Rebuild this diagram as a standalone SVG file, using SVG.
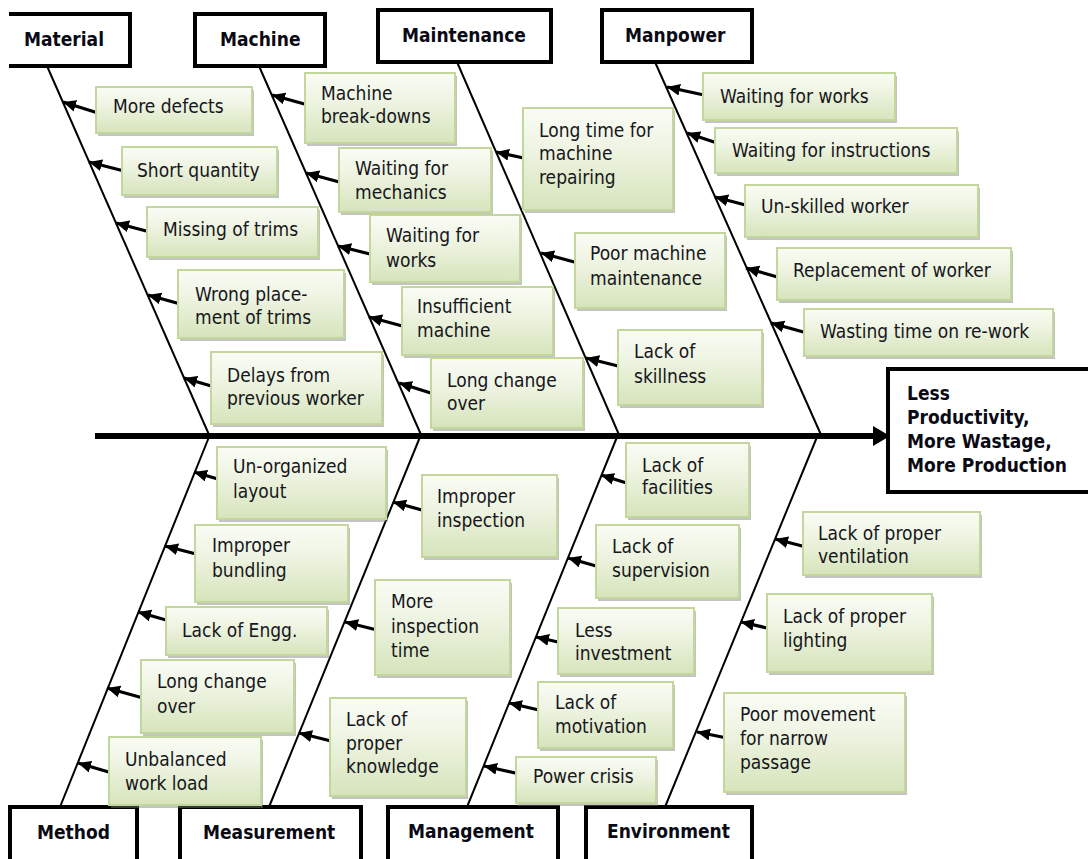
<svg xmlns="http://www.w3.org/2000/svg" width="1088" height="859" viewBox="0 0 1088 859">
<defs>
<linearGradient id="gf" x1="0" y1="0" x2="0" y2="1">
<stop offset="0" stop-color="#fafcf5"/>
<stop offset="0.35" stop-color="#f0f5e5"/>
<stop offset="1" stop-color="#d6e4bb"/>
</linearGradient>
<marker id="ah" markerUnits="userSpaceOnUse" markerWidth="15" markerHeight="13" refX="13" refY="6" orient="auto">
<path d="M0,0 L13,6 L0,12 z" fill="#000"/>
</marker>
</defs>
<style>
.t{font-family:"DejaVu Sans Condensed","DejaVu Sans",sans-serif;font-stretch:condensed;font-size:19px;fill:#161620}
.b{font-family:"DejaVu Sans Condensed","DejaVu Sans",sans-serif;font-stretch:condensed;font-size:19px;font-weight:bold;fill:#0a0a14}
.box{fill:url(#gf);stroke:#c3d69b;stroke-width:2}
.sh{fill:#7a7a7a;opacity:0.45}
.cat{fill:#fff;stroke:#000;stroke-width:4}
.bone{stroke:#000;stroke-width:2;fill:none}
.ar{stroke:#000;stroke-width:3.2;fill:none;marker-end:url(#ah)}
</style>
<rect width="1088" height="859" fill="#fff"/>

<g id="connectors">
<line x1="95" y1="436" x2="878" y2="436" stroke="#000" stroke-width="6"/>
<polygon points="873,426 890,436 873,446" fill="#000"/>
<line class="bone" x1="47" y1="66" x2="210" y2="437"/>
<line class="bone" x1="259" y1="66" x2="422" y2="437"/>
<line class="bone" x1="457" y1="62" x2="620" y2="437"/>
<line class="bone" x1="655" y1="62" x2="822" y2="437"/>
<line class="bone" x1="209" y1="437" x2="60" y2="807"/>
<line class="bone" x1="420" y1="437" x2="269" y2="807"/>
<line class="bone" x1="617" y1="437" x2="467" y2="807"/>
<line class="bone" x1="817" y1="437" x2="665" y2="807"/>
<!-- Material -->
<line class="ar" x1="98" y1="113" x2="63" y2="102"/>
<line class="ar" x1="124" y1="171" x2="89" y2="162"/>
<line class="ar" x1="150" y1="232" x2="116" y2="223"/>
<line class="ar" x1="184" y1="305" x2="148" y2="295"/>
<line class="ar" x1="218" y1="388" x2="184" y2="378"/>
<!-- Machine -->
<line class="ar" x1="308" y1="105" x2="272" y2="95"/>
<line class="ar" x1="343" y1="183" x2="306" y2="173"/>
<line class="ar" x1="374" y1="255" x2="338" y2="246"/>
<line class="ar" x1="406" y1="327" x2="369" y2="317"/>
<line class="ar" x1="434" y1="394" x2="399" y2="383"/>
<!-- Maintenance -->
<line class="ar" x1="533" y1="160" x2="496" y2="152"/>
<line class="ar" x1="578" y1="263" x2="541" y2="253"/>
<line class="ar" x1="622" y1="367" x2="586" y2="358"/>
<!-- Manpower -->
<line class="ar" x1="704" y1="95" x2="667" y2="87"/>
<line class="ar" x1="723" y1="145" x2="687" y2="133"/>
<line class="ar" x1="753" y1="207" x2="715" y2="197"/>
<line class="ar" x1="781" y1="278" x2="746" y2="268"/>
<line class="ar" x1="807" y1="333" x2="771" y2="323"/>
<!-- Method -->
<line class="ar" x1="228" y1="482" x2="194" y2="472"/>
<line class="ar" x1="200" y1="555" x2="165" y2="546"/>
<line class="ar" x1="173" y1="622" x2="138" y2="612"/>
<line class="ar" x1="143" y1="698" x2="107" y2="688"/>
<line class="ar" x1="112" y1="773" x2="78" y2="763"/>
<!-- Measurement -->
<line class="ar" x1="429" y1="512" x2="393" y2="502"/>
<line class="ar" x1="381" y1="631" x2="345" y2="622"/>
<line class="ar" x1="335" y1="742" x2="299" y2="733"/>
<!-- Management -->
<line class="ar" x1="633" y1="485" x2="601" y2="475"/>
<line class="ar" x1="603" y1="568" x2="568" y2="558"/>
<line class="ar" x1="571" y1="645" x2="536" y2="637"/>
<line class="ar" x1="543" y1="711" x2="509" y2="703"/>
<line class="ar" x1="520" y1="774" x2="484" y2="766"/>
<!-- Environment -->
<line class="ar" x1="810" y1="548" x2="775" y2="539"/>
<line class="ar" x1="776" y1="630" x2="741" y2="622"/>
<line class="ar" x1="732" y1="739" x2="697" y2="732"/>
</g>

<g id="effect">
<rect x="888" y="369" width="210" height="123" class="cat"/>
<text class="b" x="907" y="400">Less</text>
<text class="b" x="907" y="424">Productivity,</text>
<text class="b" x="907" y="448">More Wastage,</text>
<text class="b" x="907" y="472">More Production</text>
</g>

<g id="cat-material"><path d="M9,14 H130 V66 H9" class="cat"/><text class="b" x="24" y="46">Material</text></g>
<g id="cat-machine"><rect x="195" y="14" width="130" height="52" class="cat"/><text class="b" x="220" y="46">Machine</text></g>
<g id="cat-maintenance"><rect x="378" y="10" width="173" height="52" class="cat"/><text class="b" x="402" y="42">Maintenance</text></g>
<g id="cat-manpower"><rect x="602" y="10" width="150" height="52" class="cat"/><text class="b" x="625" y="42">Manpower</text></g>
<g id="cat-method"><rect x="10" y="807" width="127" height="62" class="cat"/><text class="b" x="37" y="839">Method</text></g>
<g id="cat-measurement"><rect x="180" y="807" width="181" height="62" class="cat"/><text class="b" x="203" y="839">Measurement</text></g>
<g id="cat-management"><rect x="388" y="807" width="170" height="62" class="cat"/><text class="b" x="408" y="838">Management</text></g>
<g id="cat-environment"><rect x="586" y="807" width="166" height="62" class="cat"/><text class="b" x="607" y="838">Environment</text></g>

<!-- Material causes -->
<g id="c-more-defects"><rect class="sh" x="98" y="90" width="156" height="46"/><rect class="box" x="96" y="87" width="156" height="46"/><text class="t" x="113" y="113">More defects</text></g>
<g id="c-short-quantity"><rect class="sh" x="124" y="150" width="155" height="48"/><rect class="box" x="122" y="147" width="155" height="48"/><text class="t" x="137" y="177">Short quantity</text></g>
<g id="c-missing-trims"><rect class="sh" x="149" y="210" width="171" height="50"/><rect class="box" x="147" y="207" width="171" height="50"/><text class="t" x="163" y="236">Missing of trims</text></g>
<g id="c-wrong-placement"><rect class="sh" x="180" y="273" width="166" height="68"/><rect class="box" x="178" y="270" width="166" height="68"/><text class="t" x="195" y="301">Wrong place-</text><text class="t" x="195" y="324">ment of trims</text></g>
<g id="c-delays"><rect class="sh" x="213" y="355" width="171" height="72"/><rect class="box" x="211" y="352" width="171" height="72"/><text class="t" x="227" y="382">Delays from</text><text class="t" x="227" y="405">previous worker</text></g>

<!-- Machine causes -->
<g id="c-breakdowns"><rect class="sh" x="307" y="76" width="150" height="70"/><rect class="box" x="305" y="73" width="150" height="70"/><text class="t" x="321" y="100">Machine</text><text class="t" x="321" y="123">break-downs</text></g>
<g id="c-wait-mechanics"><rect class="sh" x="341" y="151" width="152" height="64"/><rect class="box" x="339" y="148" width="152" height="64"/><text class="t" x="355" y="175">Waiting for</text><text class="t" x="355" y="199">mechanics</text></g>
<g id="c-wait-works-m"><rect class="sh" x="372" y="218" width="150" height="67"/><rect class="box" x="370" y="215" width="150" height="67"/><text class="t" x="386" y="242">Waiting for</text><text class="t" x="386" y="267">works</text></g>
<g id="c-insufficient"><rect class="sh" x="404" y="290" width="151" height="68"/><rect class="box" x="402" y="287" width="151" height="68"/><text class="t" x="417" y="313">Insufficient</text><text class="t" x="417" y="337">machine</text></g>
<g id="c-changeover-m"><rect class="sh" x="433" y="361" width="152" height="70"/><rect class="box" x="431" y="358" width="152" height="70"/><text class="t" x="447" y="387">Long change</text><text class="t" x="447" y="410">over</text></g>

<!-- Maintenance causes -->
<g id="c-long-repair"><rect class="sh" x="525" y="111" width="150" height="102"/><rect class="box" x="523" y="108" width="150" height="102"/><text class="t" x="539" y="137">Long time for</text><text class="t" x="539" y="160">machine</text><text class="t" x="539" y="184">repairing</text></g>
<g id="c-poor-maint"><rect class="sh" x="577" y="236" width="150" height="75"/><rect class="box" x="575" y="233" width="150" height="75"/><text class="t" x="590" y="260">Poor machine</text><text class="t" x="590" y="285">maintenance</text></g>
<g id="c-skillness"><rect class="sh" x="620" y="333" width="144" height="75"/><rect class="box" x="618" y="330" width="144" height="75"/><text class="t" x="634" y="358">Lack of</text><text class="t" x="634" y="383">skillness</text></g>

<!-- Manpower causes -->
<g id="c-wait-works"><rect class="sh" x="705" y="76" width="192" height="47"/><rect class="box" x="703" y="73" width="192" height="47"/><text class="t" x="720" y="103">Waiting for works</text></g>
<g id="c-wait-instr"><rect class="sh" x="717" y="131" width="242" height="45"/><rect class="box" x="715" y="128" width="242" height="45"/><text class="t" x="732" y="157">Waiting for instructions</text></g>
<g id="c-unskilled"><rect class="sh" x="747" y="188" width="233" height="52"/><rect class="box" x="745" y="185" width="233" height="52"/><text class="t" x="761" y="213">Un-skilled worker</text></g>
<g id="c-replacement"><rect class="sh" x="779" y="251" width="234" height="52"/><rect class="box" x="777" y="248" width="234" height="52"/><text class="t" x="793" y="277">Replacement of worker</text></g>
<g id="c-rework"><rect class="sh" x="806" y="312" width="249" height="47"/><rect class="box" x="804" y="309" width="249" height="47"/><text class="t" x="820" y="338">Wasting time on re-work</text></g>

<!-- Method causes -->
<g id="c-layout"><rect class="sh" x="219" y="450" width="169" height="72"/><rect class="box" x="217" y="447" width="169" height="72"/><text class="t" x="233" y="473">Un-organized</text><text class="t" x="233" y="498">layout</text></g>
<g id="c-bundling"><rect class="sh" x="197" y="528" width="153" height="77"/><rect class="box" x="195" y="525" width="153" height="77"/><text class="t" x="212" y="552">Improper</text><text class="t" x="212" y="577">bundling</text></g>
<g id="c-engg"><rect class="sh" x="168" y="610" width="161" height="48"/><rect class="box" x="166" y="607" width="161" height="48"/><text class="t" x="182" y="637">Lack of Engg.</text></g>
<g id="c-changeover"><rect class="sh" x="143" y="663" width="153" height="73"/><rect class="box" x="141" y="660" width="153" height="73"/><text class="t" x="157" y="688">Long change</text><text class="t" x="157" y="713">over</text></g>
<g id="c-workload"><rect class="sh" x="111" y="740" width="152" height="68"/><rect class="box" x="109" y="737" width="152" height="68"/><text class="t" x="125" y="766">Unbalanced</text><text class="t" x="125" y="790">work load</text></g>

<!-- Measurement causes -->
<g id="c-inspection"><rect class="sh" x="424" y="478" width="135" height="82"/><rect class="box" x="422" y="475" width="135" height="82"/><text class="t" x="437" y="503">Improper</text><text class="t" x="437" y="527">inspection</text></g>
<g id="c-insp-time"><rect class="sh" x="377" y="583" width="135" height="95"/><rect class="box" x="375" y="580" width="135" height="95"/><text class="t" x="391" y="608">More</text><text class="t" x="391" y="633">inspection</text><text class="t" x="391" y="657">time</text></g>
<g id="c-knowledge"><rect class="sh" x="332" y="701" width="136" height="98"/><rect class="box" x="330" y="698" width="136" height="98"/><text class="t" x="346" y="726">Lack of</text><text class="t" x="346" y="750">proper</text><text class="t" x="346" y="773">knowledge</text></g>

<!-- Management causes -->
<g id="c-facilities"><rect class="sh" x="628" y="446" width="123" height="74"/><rect class="box" x="626" y="443" width="123" height="74"/><text class="t" x="642" y="472">Lack of</text><text class="t" x="642" y="494">facilities</text></g>
<g id="c-supervision"><rect class="sh" x="598" y="528" width="143" height="73"/><rect class="box" x="596" y="525" width="143" height="73"/><text class="t" x="612" y="553">Lack of</text><text class="t" x="612" y="577">supervision</text></g>
<g id="c-investment"><rect class="sh" x="560" y="611" width="136" height="66"/><rect class="box" x="558" y="608" width="136" height="66"/><text class="t" x="575" y="637">Less</text><text class="t" x="575" y="660">investment</text></g>
<g id="c-motivation"><rect class="sh" x="540" y="685" width="135" height="66"/><rect class="box" x="538" y="682" width="135" height="66"/><text class="t" x="555" y="709">Lack of</text><text class="t" x="555" y="733">motivation</text></g>
<g id="c-power"><rect class="sh" x="518" y="760" width="140" height="46"/><rect class="box" x="516" y="757" width="140" height="46"/><text class="t" x="533" y="783">Power crisis</text></g>

<!-- Environment causes -->
<g id="c-ventilation"><rect class="sh" x="805" y="515" width="177" height="63"/><rect class="box" x="803" y="512" width="177" height="63"/><text class="t" x="818" y="540">Lack of proper</text><text class="t" x="818" y="563">ventilation</text></g>
<g id="c-lighting"><rect class="sh" x="769" y="597" width="165" height="78"/><rect class="box" x="767" y="594" width="165" height="78"/><text class="t" x="783" y="623">Lack of proper</text><text class="t" x="783" y="647">lighting</text></g>
<g id="c-movement"><rect class="sh" x="726" y="696" width="181" height="99"/><rect class="box" x="724" y="693" width="181" height="99"/><text class="t" x="740" y="721">Poor movement</text><text class="t" x="740" y="745">for narrow</text><text class="t" x="740" y="769">passage</text></g>
</svg>
